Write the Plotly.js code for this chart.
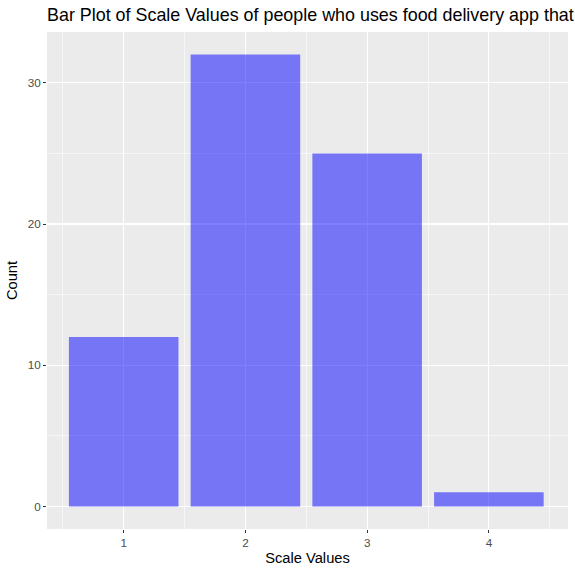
<!DOCTYPE html>
<html>
<head>
<meta charset="utf-8">
<script src="https://cdn.plot.ly/plotly-3.0.1.min.js"></script>
<style>html,body{margin:0;padding:0;background:#fff;}#chart{width:575px;height:574px;}</style>
</head>
<body>
<div id="chart"></div>
<script>
const categories = [1, 2, 3, 4];
const tickLabels = ["1", "2", "3", "4"];
const counts = [12, 32, 25, 1];

const font = "Liberation Sans, Arial, sans-serif";

const trace = {
  type: "bar",
  x: categories,
  y: counts,
  width: 0.9,
  marker: {color: "rgba(0,0,255,0.5)", line: {width: 0}},
  hoverinfo: "x+y"
};

const layout = {
  width: 575,
  height: 574,
  margin: {l: 47, r: 7, t: 32, b: 45},
  paper_bgcolor: "#ffffff",
  plot_bgcolor: "#EBEBEB",
  font: {family: font, color: "#4D4D4D"},
  showlegend: false,
  title: {
    text: "Bar Plot of Scale Values of people who uses food delivery app that",
    font: {family: font, size: 17.9, color: "#000000"},
    x: 0, xref: "paper", xanchor: "left",
    y: 0.974, yref: "container", yanchor: "middle"
  },
  xaxis: {
    type: "linear",
    range: [0.37, 4.65],
    tickvals: categories,
    ticktext: tickLabels,
    ticks: "outside", ticklen: 3, tickwidth: 1, tickcolor: "#333333",
    tickfont: {family: font, size: 11.7, color: "#4D4D4D"},
    showgrid: true, gridcolor: "#FFFFFF", gridwidth: 1.1,
    minor: {tick0: 0.5, dtick: 1, showgrid: true, gridcolor: "#FFFFFF", gridwidth: 0.55, ticks: ""},
    zeroline: false, showline: false,
    title: {text: "Scale Values", font: {family: font, size: 14.7, color: "#000000"}, standoff: 4},
    fixedrange: true
  },
  yaxis: {
    range: [-1.6, 33.6],
    tickvals: [0, 10, 20, 30],
    ticks: "outside", ticklen: 3, tickwidth: 1, tickcolor: "#333333",
    tickfont: {family: font, size: 11.7, color: "#4D4D4D"},
    showgrid: true, gridcolor: "#FFFFFF", gridwidth: 1.1,
    minor: {tick0: 5, dtick: 10, showgrid: true, gridcolor: "#FFFFFF", gridwidth: 0.55, ticks: ""},
    zeroline: false, showline: false,
    title: {text: "Count", font: {family: font, size: 14.7, color: "#000000"}, standoff: 6},
    fixedrange: true
  },
  bargap: 0.1
};

Plotly.newPlot("chart", [trace], layout, {displayModeBar: false, staticPlot: true});
</script>
</body>
</html>
